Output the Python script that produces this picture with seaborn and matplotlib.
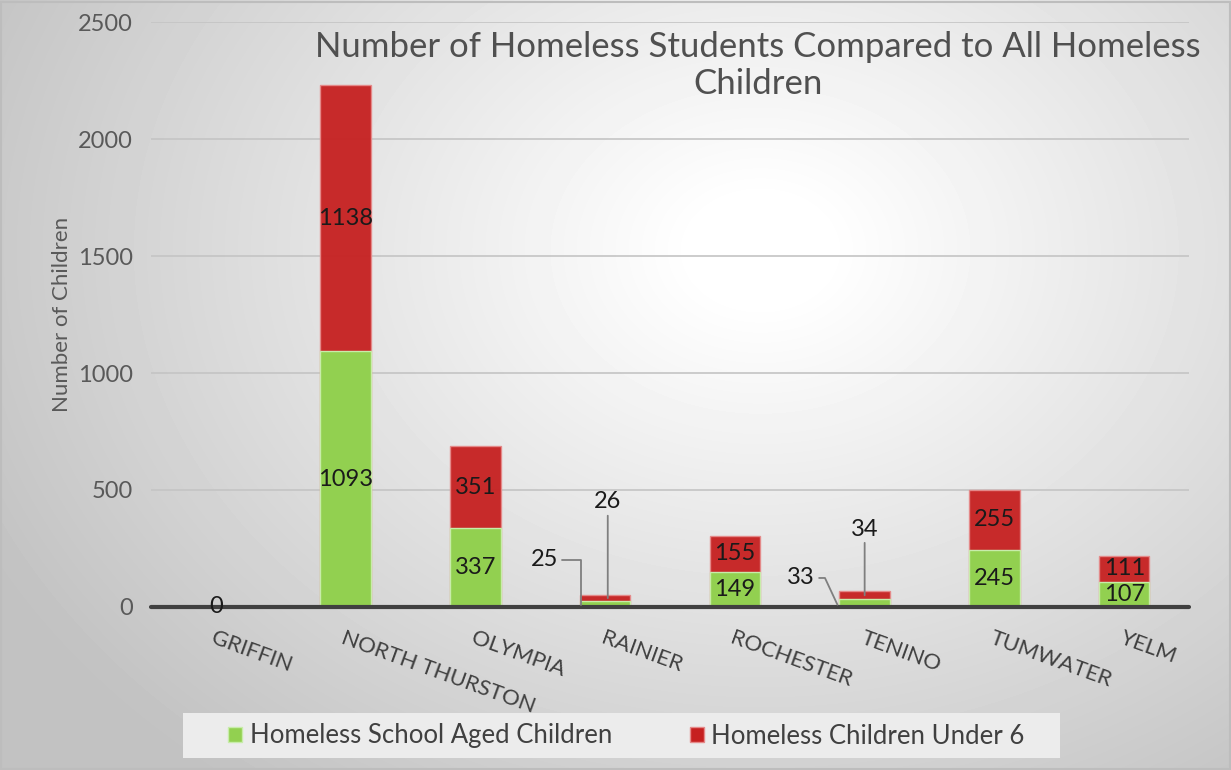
import numpy as np
import pandas as pd
import seaborn as sns
import matplotlib.pyplot as plt
from matplotlib.patches import Patch, Rectangle

districts = ["GRIFFIN", "NORTH THURSTON", "OLYMPIA", "RAINIER",
             "ROCHESTER", "TENINO", "TUMWATER", "YELM"]
school_aged = [0, 1093, 337, 25, 149, 33, 245, 107]
under_six = [0, 1138, 351, 26, 155, 34, 255, 111]
yticks = [0, 500, 1000, 1500, 2000, 2500]

green = "#92D050"
red = "#C62020"
font = "Lato"

df = pd.DataFrame({"district": districts, "school": school_aged, "under6": under_six})
df["total"] = df["school"] + df["under6"]

sns.set_style("white")
plt.rcParams["font.family"] = [font, "DejaVu Sans"]

fig = plt.figure(figsize=(12.31, 7.70), dpi=100)

# radial gradient background
bg = fig.add_axes([0, 0, 1, 1], zorder=-10)
yy, xx = np.mgrid[0:770, 0:1231]
r = np.sqrt(((xx - 760) / 900.0) ** 2 + ((yy - 250) / 700.0) ** 2)
shade = np.clip(1.02 - 0.27 * r, 0.76, 1.0)
bg.imshow(shade, cmap="gray", vmin=0, vmax=1, aspect="auto", extent=[0, 1, 0, 1])
bg.set_axis_off()
fig.patches.append(Rectangle((0.001, 0.001), 0.998, 0.997, transform=fig.transFigure,
                             fill=False, edgecolor="#bdbdbd", linewidth=1.5, zorder=-5))
# legend panel
fig.patches.append(Rectangle((183 / 1231, 1 - 758 / 770), 877 / 1231, 45 / 770,
                             transform=fig.transFigure, facecolor="#ececec",
                             edgecolor="none", zorder=-5))

ax = fig.add_axes([0.1227, 0.2117, 0.8432, 0.7597])
ax.patch.set_alpha(0)

sns.barplot(data=df, x="district", y="total", color=red, width=0.39, saturation=1,
            alpha=0.95, edgecolor="#e58a8a", linewidth=1, ax=ax, zorder=3)
sns.barplot(data=df, x="district", y="school", color=green, width=0.39, saturation=1,
            edgecolor="#c8ecaa", linewidth=1, ax=ax, zorder=4)

ax.set_ylim(0, 2500)
ax.set_xlim(-0.5, 7.5)
ax.set_yticks(yticks)
ax.set_yticklabels([str(t) for t in yticks], fontsize=17, color="#595959")
ax.tick_params(axis="y", length=0, pad=13)
ax.tick_params(axis="x", length=0, pad=15)
for y in yticks[1:]:
    ax.axhline(y, color="#c4c4c4", linewidth=1.2, zorder=1)
ax.axhline(0, color="#404040", linewidth=3, zorder=5, clip_on=False)
for s in ax.spines.values():
    s.set_visible(False)

ax.set_xticks(range(len(districts)))
ax.set_xticklabels(districts, rotation=-20, ha="left", va="top", rotation_mode="anchor",
                   fontsize=16, color="#404040")
ax.set_xlabel("")
ax.set_ylabel("Number of Children", fontsize=16, color="#595959", labelpad=4)

# value labels
lab = dict(fontsize=17, color="#1a1a1a", ha="center", va="center", zorder=6)
for i, (s, u) in enumerate(zip(school_aged, under_six)):
    if s >= 100:
        ax.text(i, s / 2, str(s), **lab)
        ax.text(i, s + u / 2, str(u), **lab)
ax.text(0, 0, "0", **lab)

line = dict(arrowstyle="-", color="#7f7f7f", lw=1.3, shrinkA=0, shrinkB=0)
ax.annotate(str(school_aged[3]), xy=(2.81, 10), xytext=(2.53, 201),
            arrowprops=dict(line, connectionstyle="angle,angleA=0,angleB=90,rad=0", relpos=(1.15, 0.5)),
            **lab)
ax.annotate(str(under_six[3]), xy=(3.02, 38), xytext=(3.02, 449),
            arrowprops=dict(line, relpos=(0.5, -0.05)), **lab)
ax.annotate(str(school_aged[5]), xy=(4.79, 10), xytext=(4.51, 124),
            arrowprops=dict(line, connectionstyle="angle,angleA=0,angleB=115,rad=0", relpos=(1.15, 0.5)),
            **lab)
ax.annotate(str(under_six[5]), xy=(5.0, 50), xytext=(5.0, 333),
            arrowprops=dict(line, relpos=(0.5, -0.05)), **lab)

fig.text(0.616, 0.915, "Number of Homeless Students Compared to All Homeless\nChildren",
         ha="center", va="center", fontsize=25, color="#505050", linespacing=1.2)

handles = [Patch(facecolor=green, edgecolor="#c8ecaa", label="Homeless School Aged Children"),
           Patch(facecolor=red, edgecolor="#e58a8a", label="Homeless Children Under 6")]
leg = fig.legend(handles=handles, loc="center", bbox_to_anchor=(0.509, 1 - 736 / 770), ncol=2,
                 fontsize=18.5, frameon=False, handlelength=0.55, handleheight=0.55,
                 handletextpad=0.3, columnspacing=3.0)
for t in leg.get_texts():
    t.set_color("#404040")

fig.savefig("out.png", dpi=100)
